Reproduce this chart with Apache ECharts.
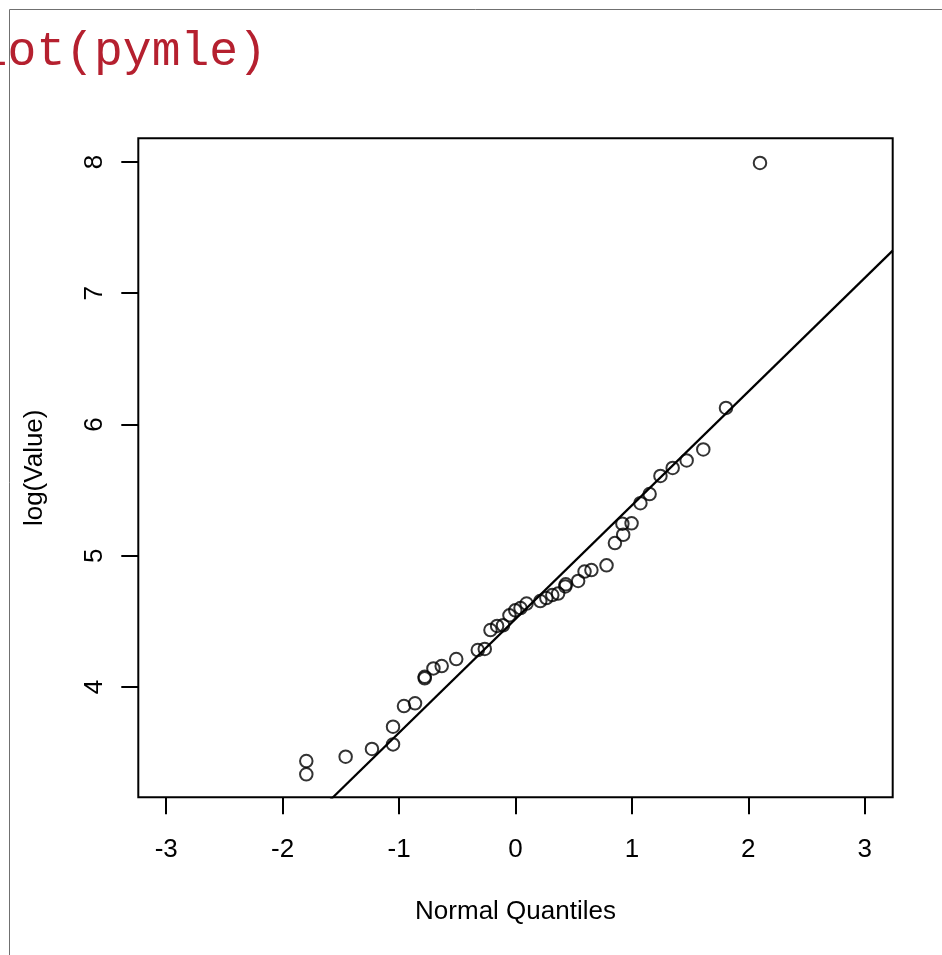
<!DOCTYPE html>
<html>
<head>
<meta charset="utf-8">
<title>plot(pymle)</title>
<script src="https://cdn.jsdelivr.net/npm/echarts@6/dist/echarts.min.js"></script>
<style>
  html, body { margin: 0; padding: 0; background: #ffffff; }
  #chart { width: 942px; height: 955px; }
</style>
</head>
<body>
<div id="chart"></div>
<script>
// Normal quantiles (x) against log(Value) (y)
const normalQuantiles = [
  -1.797, -1.797, -1.459, -1.233, -1.052, -1.052, -0.958, -0.863, -0.780, -0.780,
  -0.705, -0.634, -0.509, -0.324, -0.264, -0.215, -0.158, -0.107, -0.052, -0.002,
   0.043,  0.095,  0.213,  0.265,  0.316,  0.366,  0.428,  0.432,  0.538,  0.593,
   0.652,  0.782,  0.854,  0.925,  0.918,  0.997,  1.073,  1.152,  1.245,  1.350,
   1.470,  1.613,  1.808,  2.100
];
const logValues = [
   3.436,  3.335,  3.469,  3.528,  3.698,  3.563,  3.855,  3.876,  4.078,  4.066,
   4.142,  4.160,  4.213,  4.282,  4.290,  4.434,  4.465,  4.470,  4.546,  4.584,
   4.602,  4.636,  4.655,  4.678,  4.701,  4.712,  4.766,  4.782,  4.808,  4.880,
   4.891,  4.927,  5.097,  5.160,  5.244,  5.247,  5.400,  5.470,  5.608,  5.669,
   5.726,  5.810,  6.126,  7.992
];

// Reference line through the quartiles: intercept and slope
const lineIntercept = 4.518;
const lineSlope = 0.8661;

// Axis ranges and tick labels
const xRange = [-3.24, 3.24];
const yRange = [3.16, 8.18];
const xTicks = [-3, -2, -1, 0, 1, 2, 3];
const yTicks = [4, 5, 6, 7, 8];

const points = normalQuantiles.map((q, i) => [q, logValues[i]]);
const linePoints = xRange.map(x => [x, lineIntercept + lineSlope * x]);

const FONT = '"Liberation Sans", Arial, Helvetica, sans-serif';

const chart = echarts.init(document.getElementById('chart'), null, { renderer: 'canvas' });

chart.setOption({
  animation: false,
  backgroundColor: '#ffffff',
  grid: {
    left: 138.3,
    right: 49.3,
    top: 138.3,
    bottom: 157.7,
    show: true,
    borderColor: '#000000',
    borderWidth: 2,
    backgroundColor: 'transparent'
  },
  xAxis: {
    type: 'value',
    min: xRange[0],
    max: xRange[1],
    name: 'Normal Quantiles',
    nameLocation: 'middle',
    nameGap: 102,
    nameTextStyle: { fontFamily: FONT, fontSize: 26, color: '#000' },
    axisLine: { show: false, onZero: false },
    splitLine: { show: false },
    axisTick: {
      show: true, length: 17, inside: false,
      customValues: xTicks,
      lineStyle: { color: '#000', width: 2 }
    },
    axisLabel: {
      show: true, margin: 40,
      customValues: xTicks,
      fontFamily: FONT, fontSize: 26, color: '#000'
    }
  },
  yAxis: {
    type: 'value',
    min: yRange[0],
    max: yRange[1],
    name: 'log(Value)',
    nameLocation: 'middle',
    nameGap: 90,
    nameRotate: 90,
    nameTextStyle: { fontFamily: FONT, fontSize: 26, color: '#000' },
    axisLine: { show: false, onZero: false },
    splitLine: { show: false },
    axisTick: {
      show: true, length: 17, inside: false,
      customValues: yTicks,
      lineStyle: { color: '#000', width: 2 }
    },
    axisLabel: {
      show: true, margin: 30, rotate: 90,
      customValues: yTicks,
      fontFamily: FONT, fontSize: 26, color: '#000'
    }
  },
  graphic: [
    {
      type: 'line', silent: true,
      shape: { x1: 9.5, y1: 9.5, x2: 942, y2: 9.5 },
      style: { stroke: '#707070', lineWidth: 1 }
    },
    {
      type: 'line', silent: true,
      shape: { x1: 9.5, y1: 9.5, x2: 9.5, y2: 955 },
      style: { stroke: '#707070', lineWidth: 1 }
    },
    {
      type: 'text', silent: true,
      x: -50, y: 52,
      style: {
        text: 'plot(pymle)',
        font: '48px "Liberation Mono", "Courier New", Courier, monospace',
        fill: '#b5202f',
        verticalAlign: 'middle'
      }
    }
  ],
  series: [
    {
      type: 'line',
      data: linePoints,
      showSymbol: false,
      symbol: 'none',
      clip: true,
      silent: true,
      lineStyle: { color: '#000', width: 2.2 },
      z: 2
    },
    {
      type: 'scatter',
      data: points,
      symbol: 'circle',
      symbolSize: 12.5,
      silent: true,
      itemStyle: { color: 'rgba(0,0,0,0)', borderColor: '#000', borderWidth: 2 },
      z: 3
    }
  ]
});
</script>
</body>
</html>
